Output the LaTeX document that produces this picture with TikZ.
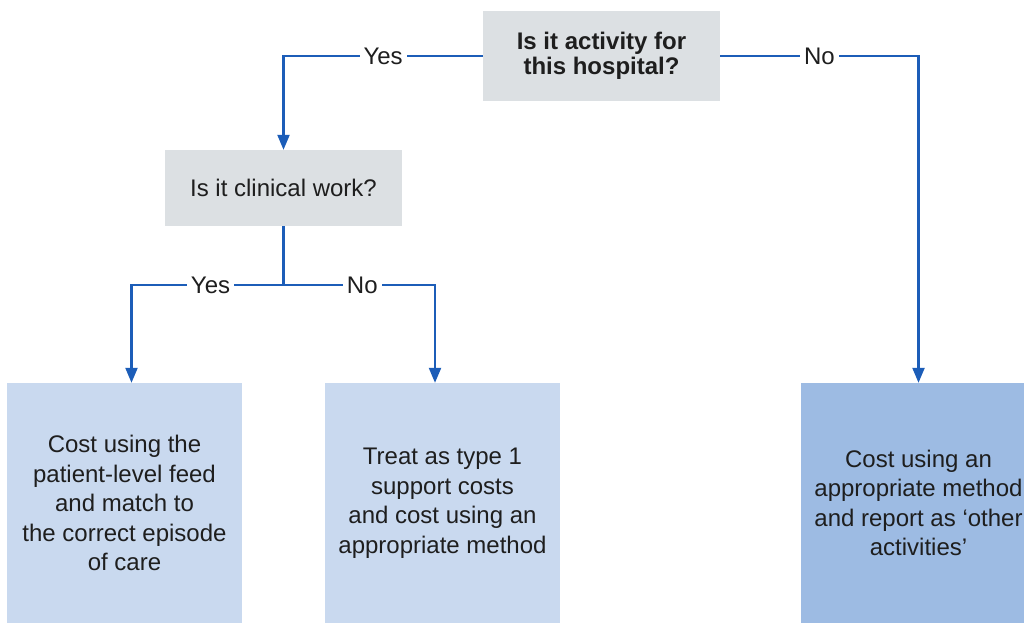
\documentclass[tikz,border=0pt]{standalone}
\usepackage{fontspec}
\setmainfont{Liberation Sans}
\usetikzlibrary{arrows.meta}
\definecolor{qgray}{RGB}{220,224,227}
\definecolor{lblue}{RGB}{201,217,239}
\definecolor{dblue}{RGB}{157,187,227}
\definecolor{lineblue}{RGB}{28,93,184}
\definecolor{txt}{RGB}{30,30,30}
\begin{document}
\begin{tikzpicture}[x=1pt,y=-1pt,
  box/.style={inner sep=0pt, align=center, text=txt, font=\fontsize{24}{29.5}\selectfont},
  qbox/.style={box, fill=qgray},
  abox/.style={box, fill=lblue, minimum width=235pt, minimum height=240pt},
  arr/.style={draw=lineblue, line width=2.2pt, -{Triangle[length=15pt,width=12pt]}},
  conn/.style={draw=lineblue, line width=2.2pt},
  lab/.style={fill=white, inner sep=4pt, text=txt, font=\fontsize{24}{28}\selectfont}
]
\useasboundingbox (0,0) rectangle (1024,622);
\fill[white] (0,0) rectangle (1024,622);
\clip (0,0) rectangle (1024,622);

\node[qbox, minimum width=237pt, minimum height=90pt, font=\fontsize{24}{27}\selectfont\bfseries] (q1) at (601.5,56) {\raisebox{-1.5pt}{\shortstack{Is it activity for\\this hospital?}}};
\node[qbox, minimum width=237pt, minimum height=76pt] (q2) at (283.5,188) {Is it clinical work?};

\node[abox] (b1) at (124.5,503) {Cost using the\\patient-level feed\\and match to\\the correct episode\\of care};
\node[abox] (b2) at (442.5,503) {Treat as type 1\\support costs\\and cost using an\\appropriate method};
\node[abox, fill=dblue, minimum width=236pt] (b3) at (918.5,503) {Cost using an\\appropriate method\\and report as `other\\activities'};

\coordinate (j) at (283.5,285);

\draw[arr] (q1.west) -| node[lab, pos=0.25] {Yes} (q2.north);
\draw[arr] (q1.east) -| node[lab, pos=0.25] {No} (b3.north);
\draw[conn] (q2.south) -- (j);
\draw[arr] (j) -| node[lab, pos=0.24] {Yes} ([xshift=7pt]b1.north);
\draw[arr] (j) -| node[lab, pos=0.26] {No} ([xshift=-7.5pt]b2.north);
\end{tikzpicture}
\end{document}
